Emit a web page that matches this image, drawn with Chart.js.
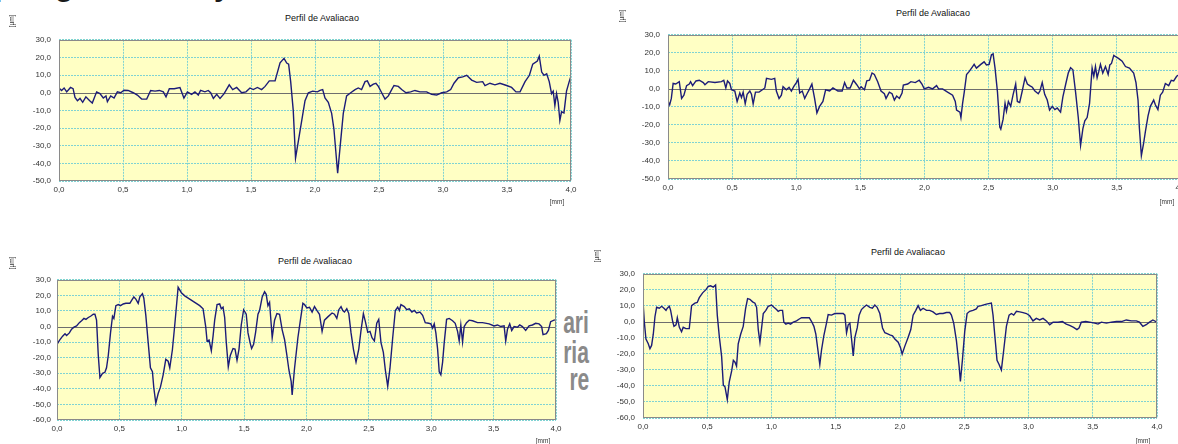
<!DOCTYPE html>
<html><head><meta charset="utf-8">
<script src="https://cdn.jsdelivr.net/npm/chart.js@4.4.1/dist/chart.umd.min.js"></script>
<style>
html,body{margin:0;padding:0;background:#fff;}
body{width:1178px;height:444px;overflow:hidden;position:relative;font-family:"Liberation Sans",Arial,sans-serif;}
canvas{position:absolute;}
.t{position:absolute;font-size:9px;color:#111;white-space:nowrap;line-height:1;transform:translateY(-50%);}
.u{position:absolute;font-size:6.5px;color:#333;white-space:nowrap;line-height:1;transform:translate(-50%,-50%) rotate(-90deg);}
.mm{position:absolute;font-size:6.5px;color:#333;white-space:nowrap;line-height:1;transform:translate(-50%,-50%);}
.big{position:absolute;font-weight:bold;font-size:30px;color:#1a1a1a;line-height:1;top:-29px;}
#gray{position:absolute;left:562px;top:305px;width:30px;height:95px;overflow:hidden;}
#gray div{position:absolute;right:3px;font-family:"Liberation Sans",sans-serif;font-weight:bold;font-size:31px;color:#8a8a8a;line-height:1;white-space:nowrap;transform:scaleX(0.68);transform-origin:right center;}
</style>
</head><body>
<span class="big" style="left:-6px">p</span>
<span class="big" style="left:55px">g</span>
<span class="big" style="left:214px">y</span>
<div id="gray"><div style="top:2px">ari</div><div style="top:32px">ria</div><div style="top:59px">re</div></div>

<canvas id="c1"></canvas><canvas id="c2"></canvas><canvas id="c3"></canvas><canvas id="c4"></canvas>

<span class="t" style="left:285px;top:18px">Perfil de Avaliacao</span>
<span class="t" style="left:896px;top:13px">Perfil de Avaliacao</span>
<span class="t" style="left:278px;top:261px">Perfil de Avaliacao</span>
<span class="t" style="left:871px;top:252px">Perfil de Avaliacao</span>
<span class="u" style="left:12px;top:21px">[µm]</span>
<span class="u" style="left:622px;top:16px">[µm]</span>
<span class="u" style="left:12px;top:263px">[µm]</span>
<span class="u" style="left:597px;top:256px">[µm]</span>
<span class="mm" style="left:557px;top:202px">[mm]</span>
<span class="mm" style="left:1167px;top:202px">[mm]</span>
<span class="mm" style="left:543px;top:441px">[mm]</span>
<span class="mm" style="left:1143px;top:441px">[mm]</span>

<script>
// ---- data: [position mm, height µm] ----
const profile1 = [[0,2.7],[0.02,1.3],[0.04,2.7],[0.06,0.5],[0.09,3],[0.11,2.3],[0.125,-2.7],[0.144,-4.5],[0.164,-3.2],[0.185,-5.4],[0.21,-2.3],[0.24,-4.5],[0.26,-5.8],[0.294,0.5],[0.32,-0.5],[0.346,-3],[0.367,-1.8],[0.378,-5],[0.404,-1.8],[0.43,-3],[0.456,0.5],[0.482,0],[0.508,1.4],[0.54,1.3],[0.58,0],[0.612,-1.3],[0.646,-3.6],[0.685,-3.6],[0.716,1.3],[0.75,0.9],[0.784,1.3],[0.815,0.5],[0.836,-2.3],[0.862,2.3],[0.9,2.3],[0.945,3],[0.976,-3],[1.003,0.5],[1.036,-0.9],[1.062,0.5],[1.088,-1.3],[1.106,1.3],[1.14,0.5],[1.166,1.3],[1.185,0],[1.206,-3.2],[1.232,-0.9],[1.258,-3.2],[1.29,-0.5],[1.33,4.5],[1.357,1.8],[1.388,3],[1.427,0],[1.461,0.5],[1.492,2.7],[1.518,1.8],[1.55,3],[1.583,1.8],[1.61,3.6],[1.643,6.7],[1.688,6.7],[1.727,17],[1.758,19.5],[1.779,16.8],[1.794,16.2],[1.81,6.3],[1.83,-10],[1.848,-37],[1.877,-24.3],[1.922,-4.5],[1.948,0],[1.982,0.9],[2.019,0.5],[2.039,1.3],[2.06,1.8],[2.078,-3],[2.104,-5.4],[2.13,-11.7],[2.148,-20.7],[2.177,-45.6],[2.195,-31.5],[2.221,-11.7],[2.247,-1.8],[2.279,0],[2.313,1.8],[2.338,2.7],[2.364,1.8],[2.391,6.3],[2.409,6.7],[2.43,3.6],[2.456,4.9],[2.476,5.4],[2.495,3.6],[2.521,0],[2.547,-3.6],[2.573,-1.8],[2.599,1.8],[2.617,4.1],[2.651,3.6],[2.677,1.8],[2.711,0],[2.747,0.5],[2.781,1.3],[2.82,0.5],[2.872,0.5],[2.911,-0.9],[2.95,-1.3],[2.99,0],[3.029,0.5],[3.06,1.8],[3.086,5.4],[3.12,8.5],[3.154,9],[3.185,9.9],[3.224,7.2],[3.263,5.9],[3.31,6.3],[3.328,4.1],[3.367,5.4],[3.406,4.5],[3.445,5.4],[3.497,4.1],[3.536,3],[3.57,0.5],[3.602,0.5],[3.641,6.3],[3.675,9.9],[3.701,16.2],[3.737,18],[3.752,20.7],[3.771,11.7],[3.789,9.9],[3.81,10.8],[3.83,6.3],[3.848,-0.5],[3.861,0.9],[3.874,-7.2],[3.887,-0.5],[3.9,-5.4],[3.913,-15.7],[3.926,-10.8],[3.945,-11.4],[3.965,0.9],[3.986,6.3],[4.0,9.5]];

const profile2 = [[0,-7],[0.013,-8.8],[0.026,-5.3],[0.04,3],[0.06,2.7],[0.088,4],[0.106,-5.3],[0.124,-3.5],[0.145,1.8],[0.166,2.7],[0.176,4],[0.192,1.8],[0.218,4.4],[0.244,4.8],[0.275,3.5],[0.288,2.3],[0.314,4],[0.366,3.5],[0.417,4],[0.435,4.8],[0.451,0.5],[0.464,4.4],[0.482,3],[0.495,-0.5],[0.521,-1.2],[0.539,-7],[0.56,-2.3],[0.573,-4.8],[0.586,-1.8],[0.602,-8.3],[0.617,-3],[0.638,-1.2],[0.651,-3],[0.664,-8.3],[0.682,-1.8],[0.71,-1.8],[0.736,-0.5],[0.755,0.5],[0.768,5.8],[0.806,5.3],[0.832,5.8],[0.845,-1.2],[0.866,-5.3],[0.884,-3.5],[0.897,1.2],[0.923,-0.5],[0.944,0.9],[0.962,-1.2],[0.98,1.2],[1.001,3.5],[1.014,5.3],[1.027,-2.3],[1.047,-1.2],[1.066,-5.3],[1.084,-2.7],[1.104,0],[1.122,2.7],[1.143,-5.3],[1.161,-13.3],[1.182,-9.7],[1.208,-7],[1.229,-0.5],[1.26,-1.2],[1.286,0.5],[1.325,-1.2],[1.358,-1.2],[1.377,3.5],[1.395,0.5],[1.42,0.5],[1.446,4.8],[1.472,2.3],[1.493,0],[1.506,1.2],[1.532,-0.5],[1.55,4.4],[1.571,4.8],[1.591,8.8],[1.609,8],[1.635,4],[1.661,-1.2],[1.687,-2.7],[1.7,-5.3],[1.726,-1.8],[1.747,-2.7],[1.765,-6.2],[1.783,-4],[1.804,-5.3],[1.825,-2.3],[1.835,2.1],[1.869,2.7],[1.894,4],[1.928,3.5],[1.959,4.8],[1.98,2.7],[1.998,0],[2.032,0.9],[2.063,0],[2.094,1.8],[2.11,0],[2.141,0],[2.18,-1.8],[2.219,-3.5],[2.24,-7],[2.25,-11.8],[2.276,-12.9],[2.284,-15.9],[2.297,-8],[2.31,-1.8],[2.328,8],[2.349,9.7],[2.375,12.4],[2.387,13.6],[2.405,11.5],[2.439,13.6],[2.465,15],[2.483,13.3],[2.504,13.6],[2.522,18.9],[2.535,19.4],[2.55,11.5],[2.569,-1.8],[2.587,-21.2],[2.595,-22.4],[2.613,-16.8],[2.628,-8],[2.639,-12.4],[2.654,-7],[2.672,-9.7],[2.69,-3.5],[2.711,2.7],[2.724,-7],[2.742,-7.6],[2.763,-0.9],[2.784,6.2],[2.802,2.7],[2.82,1.8],[2.841,0.9],[2.861,-1.2],[2.887,-2.7],[2.9,-1.2],[2.918,3.5],[2.937,-3],[2.957,-6.2],[2.975,-11.8],[2.996,-9.7],[3.017,-11.5],[3.035,-10.6],[3.061,-12.9],[3.079,-4.4],[3.1,2.3],[3.121,8.8],[3.139,11.8],[3.157,10.6],[3.178,-1.8],[3.199,-15.9],[3.217,-31.3],[3.235,-22],[3.25,-17.7],[3.268,-15.9],[3.287,-8],[3.307,11.5],[3.32,7],[3.333,12.4],[3.346,6.2],[3.359,9.7],[3.372,13.6],[3.39,8.8],[3.411,12.4],[3.432,8],[3.445,13.3],[3.458,14.1],[3.476,18.6],[3.494,17.7],[3.515,16.8],[3.541,15.4],[3.567,12.4],[3.598,11.5],[3.631,8.8],[3.649,3.5],[3.665,-6.2],[3.675,-21.2],[3.691,-37.1],[3.709,-30],[3.722,-23.9],[3.743,-15],[3.761,-9.7],[3.787,-6.2],[3.8,-8.8],[3.82,-11.5],[3.839,-3.5],[3.857,-1.8],[3.878,3],[3.904,1.8],[3.924,4.8],[3.943,4.4],[3.966,7],[4.0,8.5]];

const profile3 = [[0,-11.4],[0.021,-8.7],[0.045,-6.2],[0.064,-4.6],[0.077,-5.8],[0.099,-4.1],[0.117,-1.7],[0.136,-0.4],[0.157,0.4],[0.179,2.5],[0.197,3.7],[0.216,5.2],[0.232,4.6],[0.251,5.8],[0.269,6.6],[0.291,7.9],[0.304,7.9],[0.317,4.1],[0.331,-18.6],[0.344,-32.7],[0.365,-30],[0.384,-29.4],[0.397,-26.5],[0.411,-18.6],[0.429,-4.1],[0.445,6.6],[0.456,5.2],[0.472,13.4],[0.491,14.1],[0.509,13.4],[0.531,14.5],[0.552,14.9],[0.584,14.9],[0.597,16.6],[0.616,19],[0.632,17.6],[0.651,14.9],[0.664,19],[0.685,21.1],[0.696,18.2],[0.712,7.2],[0.731,-10.3],[0.749,-26.5],[0.765,-29],[0.776,-39.3],[0.792,-49.2],[0.811,-43],[0.829,-38.9],[0.851,-31],[0.872,-21.1],[0.891,-22.3],[0.904,-26.5],[0.925,-14.9],[0.944,1],[0.971,25.2],[0.997,21.7],[1.024,19.7],[1.064,17.6],[1.104,15.5],[1.144,13.4],[1.171,11.4],[1.192,0],[1.203,-9.3],[1.219,-8.7],[1.237,-15.5],[1.251,-6.2],[1.264,4.1],[1.283,14.1],[1.304,14.5],[1.317,11.4],[1.331,12.4],[1.344,5.8],[1.357,-10.3],[1.373,-25.9],[1.389,-18.6],[1.411,-14.1],[1.427,-14.5],[1.443,-21.7],[1.459,-14.5],[1.477,1],[1.496,10.8],[1.517,7.9],[1.531,-4.1],[1.549,-10.8],[1.56,-14.1],[1.576,-11.4],[1.592,-3.7],[1.611,7.9],[1.624,10.3],[1.645,19],[1.664,22.3],[1.677,20.7],[1.691,13.4],[1.704,15.5],[1.725,-7.2],[1.744,4.1],[1.763,8.3],[1.784,7.9],[1.805,-2.1],[1.824,-8.3],[1.843,-18.6],[1.859,-27.9],[1.877,-35.2],[1.885,-43.9],[1.904,-26.9],[1.931,-7.2],[1.952,4.6],[1.971,14.9],[1.984,14.1],[2.003,12],[2.024,12.4],[2.045,9.3],[2.064,12.8],[2.083,10.3],[2.104,7.9],[2.125,-3.1],[2.144,4.1],[2.171,6.2],[2.205,8.7],[2.224,7.9],[2.243,5.2],[2.259,10.8],[2.277,12.8],[2.291,10.3],[2.304,9.3],[2.323,11.4],[2.339,8.3],[2.357,-4.1],[2.376,-14.5],[2.397,-22.8],[2.419,-14.5],[2.437,-2.5],[2.456,8.3],[2.472,3.1],[2.491,-3.7],[2.509,-3.1],[2.525,-7.2],[2.544,-9.3],[2.563,2.1],[2.579,4.6],[2.597,-10.3],[2.616,-16.6],[2.632,-27.9],[2.651,-38.3],[2.669,-26.9],[2.691,-7.2],[2.712,10.3],[2.731,12.4],[2.744,10.3],[2.757,14.1],[2.784,12.8],[2.803,10.8],[2.824,11.4],[2.845,9.3],[2.864,10.3],[2.883,8.7],[2.909,9.3],[2.931,7.2],[2.952,2.5],[2.979,2.1],[2.997,1.7],[3.011,-1],[3.024,1.7],[3.037,-4.1],[3.051,-14.5],[3.064,-29],[3.077,-31],[3.091,-22.8],[3.104,-10.3],[3.123,4.6],[3.144,5.2],[3.171,3.7],[3.192,2.1],[3.211,-3.1],[3.224,-9.3],[3.237,1],[3.251,-9.9],[3.264,0],[3.283,2.5],[3.304,4.1],[3.331,3.7],[3.371,2.5],[3.411,2.5],[3.464,1.7],[3.504,0.4],[3.531,1],[3.557,0],[3.584,0.4],[3.597,-9.3],[3.611,-1.7],[3.629,1.7],[3.645,-2.5],[3.664,0],[3.691,-0.4],[3.709,1],[3.731,0],[3.757,-2.5],[3.784,0.4],[3.811,1],[3.837,2.1],[3.864,1.7],[3.885,0],[3.896,-5.2],[3.923,-4.6],[3.939,-2.5],[3.957,3.1],[3.984,4.1],[4.0,4.3]];

const profile4 = [[0,13.1],[0.01,0.2],[0.023,-10.7],[0.041,-13.7],[0.054,-16.7],[0.067,-14.7],[0.08,-7.7],[0.093,3.2],[0.106,9.1],[0.127,8.5],[0.145,9.7],[0.163,8.5],[0.179,7.2],[0.189,8.5],[0.205,9.7],[0.215,7.2],[0.231,0.2],[0.241,-2.8],[0.257,-1.8],[0.267,2.6],[0.283,-3.4],[0.3,-6.2],[0.313,-3.4],[0.334,-4.2],[0.36,-4.2],[0.378,10.1],[0.404,11.7],[0.422,12.1],[0.438,15.1],[0.464,18.1],[0.49,20.1],[0.508,22.1],[0.526,22.5],[0.547,21.7],[0.565,23],[0.578,4.2],[0.594,-9.3],[0.612,-21.7],[0.625,-39.5],[0.638,-40.5],[0.656,-48.5],[0.671,-37.6],[0.69,-30.6],[0.703,-24],[0.716,-25.2],[0.728,-27.6],[0.741,-13.7],[0.76,-7.7],[0.78,-2.8],[0.798,8.1],[0.814,14.5],[0.832,14.1],[0.853,12.5],[0.871,11.7],[0.884,9.1],[0.897,-4.8],[0.91,-12.7],[0.923,-3.8],[0.936,5.2],[0.956,7.2],[0.974,9.7],[1.0,10.5],[1.019,9.1],[1.039,7.7],[1.052,6.6],[1.065,7.2],[1.086,7.2],[1.096,-0.2],[1.112,-1.4],[1.13,-0.8],[1.148,-1.4],[1.169,-0.2],[1.195,0.6],[1.216,1.8],[1.234,2.6],[1.26,2.6],[1.294,2.6],[1.312,0.2],[1.33,-2.8],[1.345,-7.7],[1.363,-18.7],[1.376,-26.6],[1.389,-17.7],[1.407,-8.7],[1.428,-0.8],[1.441,4.6],[1.467,4.2],[1.493,5.2],[1.527,5.2],[1.558,5.2],[1.571,4.2],[1.584,-6.8],[1.597,-1.8],[1.61,-0.8],[1.623,-10.7],[1.636,-21.3],[1.649,-9.7],[1.667,-3.8],[1.682,4.2],[1.7,7.7],[1.718,9.1],[1.739,10.5],[1.765,9.1],[1.785,8.5],[1.804,10.5],[1.822,9.1],[1.843,5.2],[1.864,-3.8],[1.882,-6.8],[1.9,-7.4],[1.921,-8.1],[1.942,-8.7],[1.96,-10.7],[1.986,-12.7],[2.004,-16.1],[2.017,-20.1],[2.037,-15.3],[2.063,-9.7],[2.084,-4.8],[2.102,4.2],[2.123,7.2],[2.141,10.1],[2.159,7.2],[2.18,8.5],[2.206,7.2],[2.231,7.2],[2.257,6.2],[2.283,4.6],[2.309,5.2],[2.335,5.2],[2.361,5.8],[2.387,5.8],[2.4,4.2],[2.418,-0.8],[2.439,-11.7],[2.46,-27.6],[2.47,-37.2],[2.486,-23.6],[2.504,-5.8],[2.522,5.2],[2.542,6.6],[2.568,7.2],[2.594,8.1],[2.607,9.7],[2.633,10.1],[2.672,11.1],[2.711,11.7],[2.724,4.2],[2.737,-7.7],[2.755,-24],[2.771,-26.6],[2.789,-30],[2.807,-17.7],[2.828,-2.8],[2.849,4.2],[2.867,5.2],[2.885,4.2],[2.906,6.6],[2.932,6.2],[2.958,5.8],[2.984,5.2],[3.009,3.8],[3.035,0.6],[3.061,2.2],[3.087,1.2],[3.113,2.2],[3.139,0.6],[3.165,-1.8],[3.191,-0.2],[3.23,-0.2],[3.264,0.2],[3.294,-1.4],[3.32,-2.2],[3.351,-3.4],[3.377,-4.8],[3.393,-3.8],[3.411,-0.2],[3.445,0.2],[3.476,-0.2],[3.515,-0.8],[3.541,-1.4],[3.567,-0.2],[3.606,-0.8],[3.645,-0.2],[3.685,0.2],[3.724,0.2],[3.761,1.2],[3.8,0.6],[3.839,0.6],[3.864,-0.2],[3.89,-2.8],[3.916,-1.8],[3.942,-0.2],[3.968,1.2],[4.0,-0.2]];

const xTickStep = 0.5;
const yTickStep = 10;
const yMax = 30;
const yMins = [-50, -50, -60, -60];

// ---- layout (plot rectangles in page pixels) ----
const plots = [
  {id:'c1', l:59,  t:33,  r:571,  b:181, pad:8, data:profile1, yMin:yMins[0]},
  {id:'c2', l:668, t:28,  r:1181, b:179, pad:8, data:profile2, yMin:yMins[1]},
  {id:'c3', l:57,  t:275, r:556,  b:420, pad:6, data:profile3, yMin:yMins[2]},
  {id:'c4', l:643, t:267, r:1157, b:418, pad:8, data:profile4, yMin:yMins[3]}
];
const YW = 50, PT = 6, PR = 10, XH = 20;
const fmt = v => Number(v).toFixed(1).replace('.', ',');

const plotDeco = {
  id: 'plotDeco',
  beforeDraw(chart) {
    const {ctx, chartArea: a} = chart;
    ctx.save();
    ctx.fillStyle = '#ffffc4';
    ctx.fillRect(a.left, a.top, a.right - a.left, a.bottom - a.top);
    ctx.restore();
  },
  beforeDatasetsDraw(chart) {
    const {ctx, chartArea: a} = chart;
    const y = Math.round(chart.scales.y.getPixelForValue(0)) + 0.5;
    ctx.save();
    ctx.strokeStyle = '#6e6e6e';
    ctx.lineWidth = 1;
    ctx.beginPath(); ctx.moveTo(a.left, y); ctx.lineTo(a.right, y); ctx.stroke();
    ctx.restore();
  },
  afterDraw(chart) {
    const {ctx, chartArea: a} = chart;
    ctx.save();
    ctx.strokeStyle = '#8a8a8a';
    ctx.lineWidth = 1;
    ctx.strokeRect(Math.round(a.left) + 0.5, Math.round(a.top) + 0.5, Math.round(a.right - a.left) - 1, Math.round(a.bottom - a.top) - 1);
    ctx.restore();
  }
};

plots.forEach(p => {
  const cv = document.getElementById(p.id);
  const w = p.r - p.l + YW + PR, h = p.b - p.t + PT + XH;
  cv.width = w; cv.height = h;
  cv.style.left = (p.l - YW) + 'px'; cv.style.top = (p.t - PT) + 'px';
  cv.style.width = w + 'px'; cv.style.height = h + 'px';
  new Chart(cv, {
    type: 'line',
    data: { datasets: [{
      data: p.data.map(d => ({x: d[0], y: d[1]})),
      borderColor: '#1c1c78', borderWidth: 1.4, pointRadius: 0, tension: 0, fill: false
    }]},
    options: {
      responsive: false, animation: false, devicePixelRatio: 1,
      layout: { padding: {left: 0, top: PT, right: PR, bottom: 0} },
      plugins: { legend: {display: false}, title: {display: false}, tooltip: {enabled: false} },
      scales: {
        x: {
          type: 'linear', min: 0, max: 4,
          ticks: { stepSize: xTickStep, callback: fmt, color: '#333', font: {size: 8, family: 'Liberation Sans'}, padding: 4, maxRotation: 0, autoSkip: false },
          grid: { color: '#7fd3d3', drawTicks: false, lineWidth: 1 },
          border: { display: false, dash: [2, 1] },
          afterFit: s => { s.height = XH; }
        },
        y: {
          min: p.yMin, max: yMax,
          ticks: { stepSize: yTickStep, callback: fmt, color: '#333', font: {size: 8, family: 'Liberation Sans'}, padding: p.pad, autoSkip: false },
          grid: { color: c => (Math.abs(c.tick ? c.tick.value : 1) < 1e-9 ? 'rgba(0,0,0,0)' : '#7fd3d3'), drawTicks: false, lineWidth: 1 },
          border: { display: false, dash: [2, 1] },
          afterFit: s => { s.width = YW; }
        }
      }
    },
    plugins: [plotDeco]
  });
});
</script>
</body></html>
